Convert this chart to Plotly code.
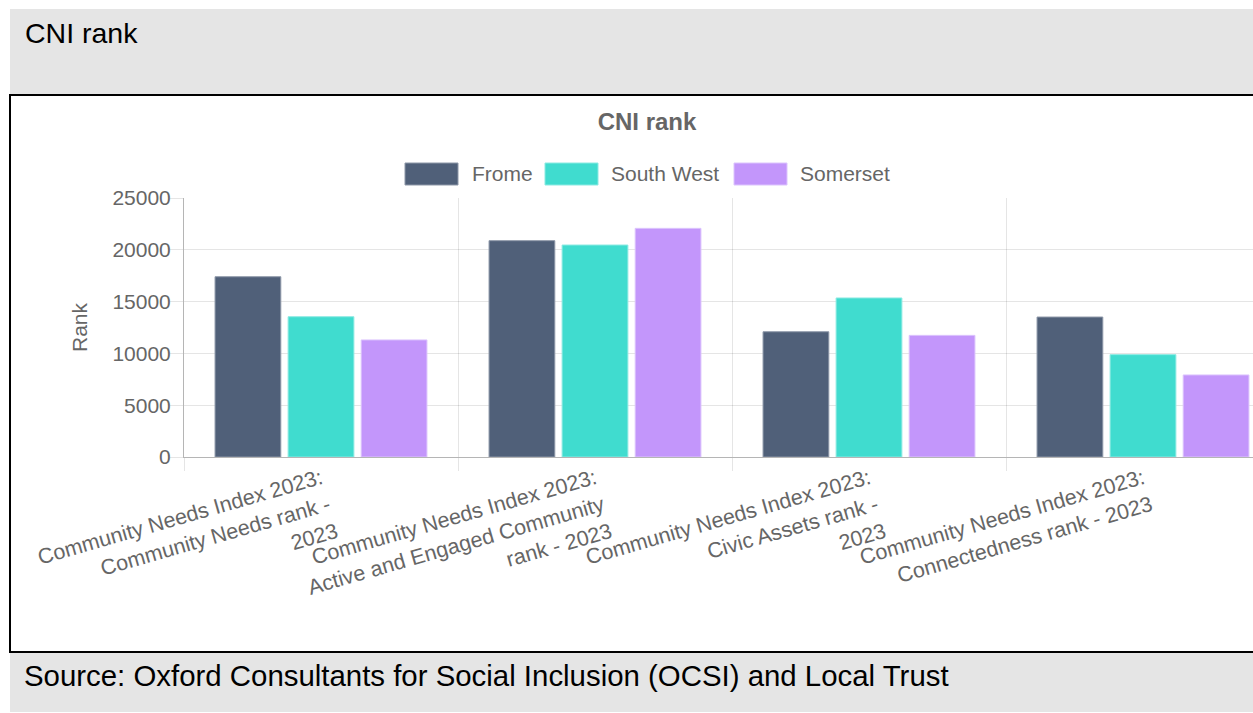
import plotly.graph_objects as go

W, H = 1253, 713

categories = [
    "Community Needs Index 2023:<br>Community Needs rank -<br>2023",
    "Community Needs Index 2023:<br>Active and Engaged Community<br>rank - 2023",
    "Community Needs Index 2023:<br>Civic Assets rank -<br>2023",
    "Community Needs Index 2023:<br>Connectedness rank - 2023",
]
series_names = ["Frome", "South West", "Somerset"]
frome = [17400, 20880, 12090, 13510]
south_west = [13540, 20460, 15350, 9880]
somerset = [11300, 22070, 11740, 7920]
series_values = [frome, south_west, somerset]
colors = ["#506079", "#40dccf", "#c396fb"]
edge_colors = ["#8d97a8", "#8beae2", "#dcc4fd"]

y_ticks = [0, 5000, 10000, 15000, 20000, 25000]


def px(x):
    return x / W


def py(y):
    return 1 - y / H


fig = go.Figure()
for name, vals, c, ec in zip(series_names, series_values, colors, edge_colors):
    fig.add_trace(go.Bar(
        name=name, x=categories, y=vals,
        marker=dict(color=c, line=dict(color=ec, width=1)),
        showlegend=False,
    ))

GRID = "rgba(0,0,0,0.1)"
AXIS = "#b5b5b5"
TXT = "#666666"
FONT = "Liberation Sans, Arial, sans-serif"

x_left = 184
cat_w = 274
x_max = -0.5 + (W - x_left) / cat_w

fig.update_layout(
    width=W, height=H,
    autosize=False,
    margin=dict(l=0, r=0, t=0, b=0, pad=0),
    paper_bgcolor="white",
    plot_bgcolor="rgba(0,0,0,0)",
    barmode="group",
    bargap=0.2,
    bargroupgap=0.1,
    font=dict(family=FONT, color=TXT, size=21),
    title=dict(
        text="<b>CNI rank</b>", x=px(647), y=py(122),
        xanchor="center", yanchor="middle", xref="paper", yref="paper",
        font=dict(family=FONT, size=24, color=TXT),
    ),
    xaxis=dict(
        domain=[px(x_left), 1], type="category",
        range=[-0.5, x_max],
        tickson="boundaries",
        automargin=False,
        showgrid=True, gridcolor=GRID, gridwidth=1,
        ticks="outside", ticklen=13, tickcolor=GRID,
        showline=True, linecolor=AXIS, linewidth=1,
        tickangle=-16,
        tickfont=dict(family=FONT, size=21.5, color=TXT),
        fixedrange=True,
    ),
    yaxis=dict(
        domain=[py(457), py(198)],
        range=[0, 25000],
        tickvals=y_ticks,
        tickformat="d",
        automargin=False,
        showgrid=True, gridcolor=GRID, gridwidth=1,
        ticks="outside", ticklen=13, tickcolor=GRID,
        ticklabelstandoff=-5,
        showline=True, linecolor=AXIS, linewidth=1,
        zeroline=False,
        tickfont=dict(family=FONT, size=21, color=TXT),
        title=dict(text="Rank", font=dict(family=FONT, size=21, color=TXT), standoff=19),
        fixedrange=True,
    ),
)

shapes = [
    dict(type="rect", xref="paper", yref="paper", x0=px(10), x1=1.0, y0=py(94), y1=py(9),
         fillcolor="#e5e5e5", line=dict(width=0), layer="below"),
    dict(type="rect", xref="paper", yref="paper", x0=px(10), x1=1.0, y0=py(712), y1=py(653),
         fillcolor="#e5e5e5", line=dict(width=0), layer="below"),
    dict(type="rect", xref="paper", yref="paper", x0=px(10), x1=1.02, y0=py(652), y1=py(95),
         fillcolor="rgba(0,0,0,0)", line=dict(color="black", width=2), layer="above"),
]

annotations = [
    dict(text="CNI rank", xref="paper", yref="paper", x=px(23), y=py(33),
         xanchor="left", yanchor="middle", showarrow=False,
         font=dict(family=FONT, size=28.5, color="black")),
    dict(text="Source: Oxford Consultants for Social Inclusion (OCSI) and Local Trust",
         xref="paper", yref="paper", x=px(22), y=py(675),
         xanchor="left", yanchor="middle", showarrow=False,
         font=dict(family=FONT, size=29.4, color="black")),
]

legend_boxes = [405, 545, 734]
legend_text_x = [470, 609, 798]
for name, c, ec, bx, tx in zip(series_names, colors, edge_colors, legend_boxes, legend_text_x):
    shapes.append(dict(type="rect", xref="paper", yref="paper",
                       x0=px(bx), x1=px(bx + 53), y0=py(185), y1=py(163),
                       fillcolor=c, line=dict(color=ec, width=1)))
    annotations.append(dict(text=name, xref="paper", yref="paper", x=px(tx), y=py(174),
                            xanchor="left", yanchor="middle", showarrow=False,
                            font=dict(family=FONT, size=21, color=TXT)))

fig.update_layout(shapes=shapes, annotations=annotations)

fig.write_html("out.html", config={"responsive": False})
